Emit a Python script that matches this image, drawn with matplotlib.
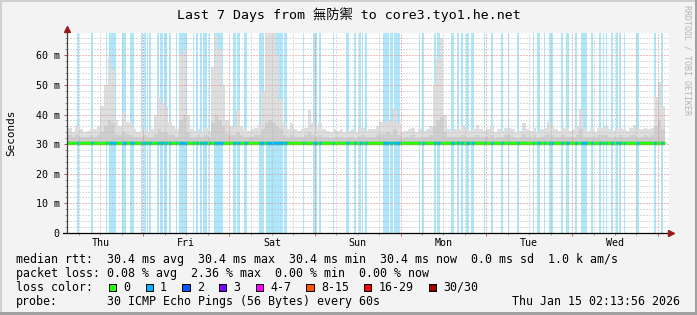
import numpy as np
import matplotlib.pyplot as plt
from matplotlib.patches import Rectangle

W, H = 697, 315
mono = 'DejaVu Sans Mono'
plt.rcParams['font.family'] = mono

# time axis in hours counted from Thu Jan 8 00:00
loss_start = [5.4, 9.4, 13.5, 14.4, 15.9, 18.1, 20.3, 23.4, 24.1, 25.0, 25.7, 27.8, 28.7, 29.8,
              31.3, 33.1, 33.9, 37.9, 38.7, 39.9, 40.6, 42.3, 43.7, 49.1, 50.2, 52.2, 56.4, 58.4,
              63.3, 68.7, 71.6, 73.1, 77.2, 80.7, 82.9, 84.3, 85.2, 86.1, 91.1, 93.0, 94.2, 101.1,
              102.1, 105.4, 106.3, 110.1, 111.9, 112.9, 114.2, 115.7, 119.2, 121.3, 124.1, 126.0,
              128.5, 133.0, 134.2, 136.0, 137.5, 140.9, 142.3, 144.9, 146.4, 149.3, 151.5, 152.6,
              153.4, 154.8, 156.4, 157.2, 158.5, 161.8, 166.9, 168.9]
loss_end = [6.0, 9.9, 13.8, 15.7, 16.4, 19.2, 21.4, 23.8, 24.8, 25.3, 26.1, 28.4, 29.4, 30.6,
            31.7, 33.5, 36.3, 38.3, 39.2, 40.4, 41.7, 42.7, 46.2, 49.9, 51.0, 52.9, 57.9, 63.1,
            64.2, 69.0, 72.5, 73.6, 77.4, 81.5, 83.5, 85.0, 85.6, 86.5, 92.7, 93.9, 95.8, 101.5,
            102.5, 106.0, 107.1, 110.9, 112.3, 113.4, 115.1, 116.5, 119.6, 121.9, 124.7, 126.3,
            129.1, 133.3, 135.0, 136.4, 138.7, 141.4, 143.1, 145.4, 148.2, 149.9, 152.2, 152.9,
            153.8, 155.4, 156.8, 157.7, 158.9, 162.7, 167.5, 169.3]

# hourly smoke, first value is 02:00 Thu (ms)
smoke_max = [34.5, 35.5, 34, 36, 35, 34, 34.5, 35, 35, 36, 43, 50,
             59.5, 55, 38, 36, 41, 37.5, 37, 35, 34, 34.5, 35, 34,
             35, 40, 46, 44, 42.5, 37.5, 36, 35, 60, 62, 40, 35,
             34.5, 35, 34, 35.5, 34.5, 56, 67, 62, 50, 38, 36, 36,
             41.5, 36, 35, 34.5, 35, 35.5, 36.5, 48, 68, 68, 68, 60,
             45, 37, 35, 37, 35, 34.5, 35, 35.5, 41.5, 37, 35, 37,
             35, 34.5, 34, 35, 34.5, 35, 34, 34.5, 35, 34, 35, 35.5,
             34.5, 35, 35, 36, 37.5, 37, 38, 37.5, 42, 37, 34, 34.5,
             35, 35.5, 34, 35, 34.5, 35, 36, 50, 59, 66, 40, 35,
             34.5, 35, 35, 36.5, 35, 34.5, 35, 36.5, 35, 34.5, 35, 36,
             34, 35, 34.5, 35.5, 35.5, 35, 34, 34.5, 37, 35, 34.5, 35.5,
             34, 35, 35.5, 37.5, 36, 35, 34.5, 35.5, 35, 34.5, 35, 36,
             42, 35, 34.5, 35, 34, 35.5, 35.5, 36, 35, 34.5, 35, 35.5,
             35, 34.5, 35.5, 36.5, 35, 35, 35.5, 35, 35.5, 46, 51, 43]
smoke_mid = [32.5, 33, 32.5, 33, 32.5, 32.5, 32.5, 33, 32.5, 33, 34, 36,
             38, 37, 33.5, 33, 34, 33.5, 33, 32.5, 32.5, 32.5, 33, 32.5,
             32.5, 33.5, 35, 34, 34, 33, 33, 32.5, 38, 40, 34, 32.5,
             32.5, 33, 32.5, 33, 32.5, 37, 40, 38, 36, 33.5, 33, 33,
             34, 33, 32.5, 32.5, 32.5, 33, 33, 35, 37, 38, 37, 36,
             35, 33, 32.5, 33, 32.5, 32.5, 32.5, 33, 34, 33, 32.5, 33,
             32.5, 32.5, 32, 32.5, 32.5, 32.5, 32, 32.5, 32.5, 32, 32.5, 33,
             32.5, 32.5, 32.5, 33, 33.5, 33.5, 34, 33.5, 35, 33, 32, 32.5,
             32.5, 33, 32, 32.5, 32.5, 32.5, 33, 36, 38, 39, 34, 32.5,
             32.5, 32.5, 32.5, 33, 32.5, 32.5, 32.5, 33, 32.5, 32.5, 32.5, 33,
             32, 32.5, 32.5, 33, 33, 32.5, 32, 32.5, 33.5, 32.5, 32.5, 33,
             32, 32.5, 33, 33.5, 33, 32.5, 32.5, 33, 32.5, 32.5, 32.5, 33,
             35, 32.5, 32.5, 32.5, 32, 33, 33, 33, 32.5, 32.5, 32.5, 33,
             32.5, 32.5, 33, 33, 32.5, 32.5, 33, 32.5, 33, 36, 38, 35]
median_rtt = 30.4

days = ['Thu', 'Fri', 'Sat', 'Sun', 'Mon', 'Tue', 'Wed']
rtt_stats = ['30.4 ms avg', '30.4 ms max', '30.4 ms min', '30.4 ms now', '0.0 ms sd', '1.0 k am/s']
loss_stats = ['0.08 % avg', '2.36 % max', '0.00 % min', '0.00 % now']
loss_labels = ['0', '1', '2', '3', '4-7', '8-15', '16-29', '30/30']
loss_colors = ['#26ff00', '#00b8ff', '#0059ff', '#7e00ff', '#ff00ff', '#ff5500', '#ff0000', '#a10000']


def fx(px):
    return px / W


def fy(py):
    return 1 - py / H


fig = plt.figure(figsize=(W / 100, H / 100), dpi=100, facecolor='#f3f3f3')
ax = fig.add_axes([fx(67), fy(233), 602 / W, 200 / H])
ax.set_facecolor('white')
ax.set_xlim(2.65, 2.65 + 602 / 3.5737)
ax.set_ylim(0, 67.52)

for a, b in zip(loss_start, loss_end):
    ax.axvspan(a, b, color='#aee6fa', lw=0, antialiased=False, zorder=1)

hours = np.arange(2, 2 + len(smoke_max) + 1)
top = np.append(smoke_max, smoke_max[-1])
mid = np.append(smoke_mid, smoke_mid[-1])
ax.fill_between(hours, 29.8, top, step='post', color='#dedede', lw=0, zorder=2)
ax.fill_between(hours, 30.0, mid, step='post', color='#cecece', lw=0, zorder=3)
ax.fill_between(hours, 30.1, 31.2, step='post', color='#bdbdbd', lw=0, zorder=4)

ax.hlines(median_rtt, hours[0], hours[-1], color=loss_colors[0], lw=2.4, zorder=5)
ax.hlines([median_rtt] * len(loss_start), loss_start, loss_end, color=loss_colors[1], lw=2.4, zorder=6)

# dotted grid like rrdtool
dots = (0, (1, 2))
for v in np.arange(2, 67, 2):
    c = '#e07a7a' if v % 10 == 0 else '#b8b8b8'
    ax.axhline(v, color=c, lw=0.72, ls=dots, zorder=7)
for h in np.arange(6, 171, 6):
    c = '#e07a7a' if h % 24 == 0 else '#b8b8b8'
    ax.axvline(h, color=c, lw=0.72, ls=dots, zorder=7)

for s in ax.spines.values():
    s.set_visible(False)

ax.set_yticks(np.arange(0, 61, 10))
ax.set_yticklabels(['0'] + ['%d m' % v for v in range(10, 61, 10)])
ax.set_yticks(np.arange(0, 67, 2), minor=True)
ax.tick_params(axis='y', which='major', length=2.2, width=0.72, color='#c05050',
               pad=3.0, labelsize=7.2)
ax.tick_params(axis='y', which='minor', length=1.4, width=0.72, color='#999999')
ax.set_xticks(np.arange(24, 171, 24))
ax.set_xticklabels([])
ax.set_xticks(np.arange(6, 171, 6), minor=True)
ax.tick_params(axis='x', which='major', length=2.2, width=0.72, color='#d06060')
ax.tick_params(axis='x', which='minor', length=1.6, width=0.72, color='#999999')

for i, d in enumerate(days):
    ax.text(12 + 24 * i, -13 / 200, d, transform=ax.get_xaxis_transform(),
            ha='center', va='baseline', fontsize=7.2)

# axis lines with arrows
ax.plot([0, 0], [0, 205 / 200], transform=ax.transAxes, color='#404040', lw=0.9,
        clip_on=False, zorder=10)
ax.plot([-4 / 602, 602 / 602], [0, 0], transform=ax.transAxes, color='black', lw=0.9,
        clip_on=False, zorder=10)
ax.plot(0, 204.5 / 200, marker='^', ms=4.5, color='#9b1b1b', transform=ax.transAxes,
        clip_on=False, zorder=11)
ax.plot(604 / 602, 0, marker='>', ms=4.5, color='#9b1b1b', transform=ax.transAxes,
        clip_on=False, zorder=11)

fig.text(fx(348.5), fy(14.5), 'Last 7 Days from 無防禦 to core3.tyo1.he.net',
         ha='center', va='center', fontsize=9.5, family=[mono, 'Noto Sans CJK TC'])
fig.text(fx(11), fy(133), 'Seconds', rotation=90, ha='center', va='center', fontsize=7.9)
fig.text(fx(687), fy(60), 'RRDTOOL / TOBI OETIKER', rotation=270, ha='center', va='center',
         fontsize=6, color='#b4b4b4')

fs = 8.4
fig.text(fx(16), fy(263), 'median rtt:  ' + '  '.join(rtt_stats), va='baseline', fontsize=fs)
fig.text(fx(16), fy(277), 'packet loss: ' + '  '.join(loss_stats), va='baseline', fontsize=fs)
fig.text(fx(16), fy(291), 'loss color:', va='baseline', fontsize=fs)
x = 108.8
for lab, col in zip(loss_labels, loss_colors):
    fig.patches.append(Rectangle((fx(x), fy(291)), 7.3 / W, 7.3 / H, transform=fig.transFigure,
                                 facecolor=col, edgecolor='black', lw=0.72))
    fig.text(fx(x + 14.5), fy(291), lab, va='baseline', fontsize=fs)
    x += 36.7 + 7.02 * (len(lab) - 1)
fig.text(fx(16), fy(305), 'probe:', va='baseline', fontsize=fs)
fig.text(fx(107), fy(305), '30 ICMP Echo Pings (56 Bytes) every 60s', va='baseline', fontsize=fs)
fig.text(fx(680), fy(305), 'Thu Jan 15 02:13:56 2026', ha='right', va='baseline', fontsize=fs)

# 3d-ish frame
fig.patches.append(Rectangle((0, 1 - 2 / H), 1, 2 / H, transform=fig.transFigure,
                             color='#d0d0d0', lw=0))
fig.patches.append(Rectangle((0, 0), 2 / W, 1, transform=fig.transFigure, color='#d0d0d0', lw=0))
fig.patches.append(Rectangle((0, 0), 1, 3 / H, transform=fig.transFigure, color='#a0a0a0', lw=0))
fig.patches.append(Rectangle((1 - 2 / W, 0), 2 / W, 1, transform=fig.transFigure,
                             color='#a0a0a0', lw=0))

fig.savefig('out.png', dpi=100, facecolor=fig.get_facecolor())
